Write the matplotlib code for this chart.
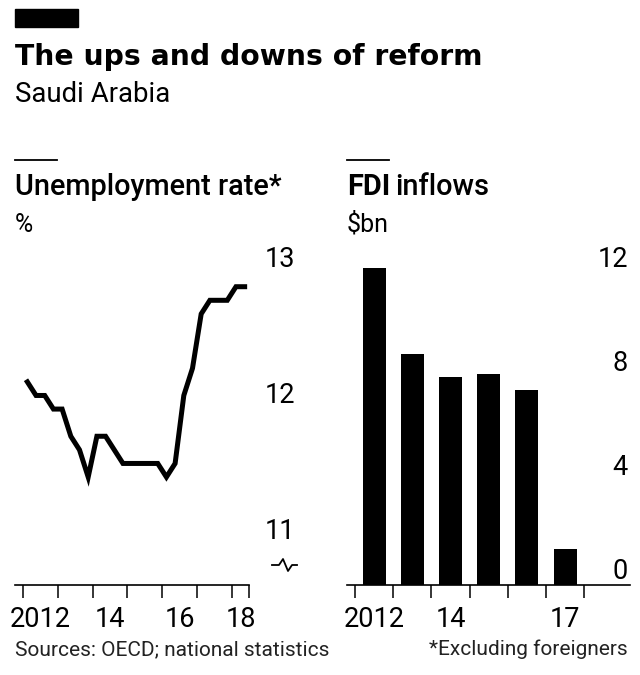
import pandas as pd
import matplotlib
matplotlib.use("Agg")
import matplotlib.pyplot as plt
from matplotlib.lines import Line2D
from matplotlib.patches import Rectangle

# Unemployment rate, Saudi nationals, quarterly, %
quarters = pd.period_range("2012Q1", "2018Q2", freq="Q")
unemployment = [12.2, 12.1, 12.1, 12.0, 12.0, 11.8, 11.7, 11.5,
                11.8, 11.8, 11.7, 11.6, 11.6, 11.6, 11.6, 11.6,
                11.5, 11.6, 12.1, 12.3, 12.7, 12.8, 12.8, 12.8,
                12.9, 12.9]
unemp_yticks = [11, 12, 13]
unemp_xlabels = {2012: "2012", 2014: "14", 2016: "16", 2018: "18"}

# FDI inflows, $bn
fdi_years = [2012, 2013, 2014, 2015, 2016, 2017]
fdi = [12.2, 8.9, 8.0, 8.1, 7.5, 1.4]
fdi_yticks = [0, 4, 8, 12]
fdi_xlabels = {2012: "2012", 2014: "14", 2017: "17"}

W, H = 640, 675
plt.rcParams["font.family"] = ["Roboto", "DejaVu Sans"]
TICKSIZE = 19.5

fig = plt.figure(figsize=(W / 100, H / 100), dpi=100)


def fx(px):
    return px / W


def fy(py):
    return 1 - py / H


def style_axis(ax, year_ticks, labels, ypad):
    xmax = ax.get_xlim()[1]
    for s in ["top", "left", "right"]:
        ax.spines[s].set_visible(False)
    ax.spines["bottom"].set_linewidth(1.2)
    ax.set_xticks(year_ticks)
    ax.set_xticklabels([])
    ax.tick_params(axis="x", which="major", length=9, width=1.1, direction="out")
    # year labels sit mid-year, pulled in where the axis stops short
    ax.set_xticks([min(y + 0.5, xmax - 0.22) for y in labels], minor=True)
    ax.set_xticklabels(list(labels.values()), minor=True, fontsize=TICKSIZE)
    ax.tick_params(axis="x", which="minor", length=0, pad=15)
    ax.yaxis.tick_right()
    ax.tick_params(axis="y", length=0, pad=ypad)
    for lab in ax.get_yticklabels():
        lab.set_horizontalalignment("right")
        lab.set_verticalalignment("bottom")
        lab.set_fontsize(TICKSIZE)


# ---- left: unemployment line ----
ax1 = fig.add_axes([fx(15), fy(585), fx(234), 335 / H])
xq = [q.year + (q.quarter - 0.5) / 4 for q in quarters]
ax1.plot(xq, unemployment, color="black", lw=3.6, solid_joinstyle="miter")
ax1.set_xlim(2011.77, 2018.5)
ax1.set_ylim(10.706, 13.17)
ax1.set_yticks(unemp_yticks)
ax1.set_yticklabels([str(v) for v in unemp_yticks])
style_axis(ax1, list(range(2012, 2019)) + [2018.5], unemp_xlabels, 33)

# ---- right: FDI bars ----
ax2 = fig.add_axes([fx(347), fy(585), fx(283), 335 / H])
ax2.bar([y + 0.5 for y in fdi_years], fdi, width=0.6, color="black")
ax2.set_xlim(2011.79, 2019.2)
ax2.set_ylim(0, 12.88)
ax2.set_yticks(fdi_yticks)
ax2.set_yticklabels([str(v) for v in fdi_yticks])
style_axis(ax2, list(range(2012, 2019)), fdi_xlabels, -1.5)

# axis break marker on the unemployment scale
bx = [272, 279, 283, 288, 292, 297]
by = [565, 565, 559, 571, 565, 565]
fig.add_artist(Line2D([fx(x) for x in bx], [fy(y) for y in by],
                      color="black", lw=1.3, transform=fig.transFigure))

# header
fig.add_artist(Rectangle((fx(15), fy(27)), fx(63), 18 / H, color="black",
                         transform=fig.transFigure))
fig.text(fx(15), fy(65), "The ups and downs of reform", family="DejaVu Sans",
         fontweight="bold", fontsize=20.3, va="baseline")
fig.text(fx(15), fy(102), "Saudi Arabia", fontsize=19.8, va="baseline")

# panel headings
fig.add_artist(Line2D([fx(15), fx(57)], [fy(160), fy(160)],
                      color="black", lw=1.3, transform=fig.transFigure))
fig.text(fx(15), fy(195), "Unemployment rate*", fontsize=20.8,
         fontweight="medium", va="baseline")
fig.text(fx(15), fy(232), "%", fontsize=18, va="baseline")

fig.add_artist(Line2D([fx(347), fx(389)], [fy(160), fy(160)],
                      color="black", lw=1.3, transform=fig.transFigure))
t = fig.text(fx(347), fy(195), "FDI", fontsize=20.8, fontweight="bold",
             va="baseline")
fig.canvas.draw()
bb = t.get_window_extent()
fig.text(bb.x1 / W + fx(5), fy(195), "inflows", fontsize=20.8,
         fontweight="medium", va="baseline")
fig.text(fx(347), fy(232), "$bn", fontsize=18, va="baseline")

# footer
fig.text(fx(15), fy(655), "Sources: OECD; national statistics",
         fontsize=15, color="#222222", va="baseline")
fig.text(fx(628), fy(655), "*Excluding foreigners",
         fontsize=15, color="#222222", va="baseline", ha="right")

fig.savefig("out.png", dpi=100)
